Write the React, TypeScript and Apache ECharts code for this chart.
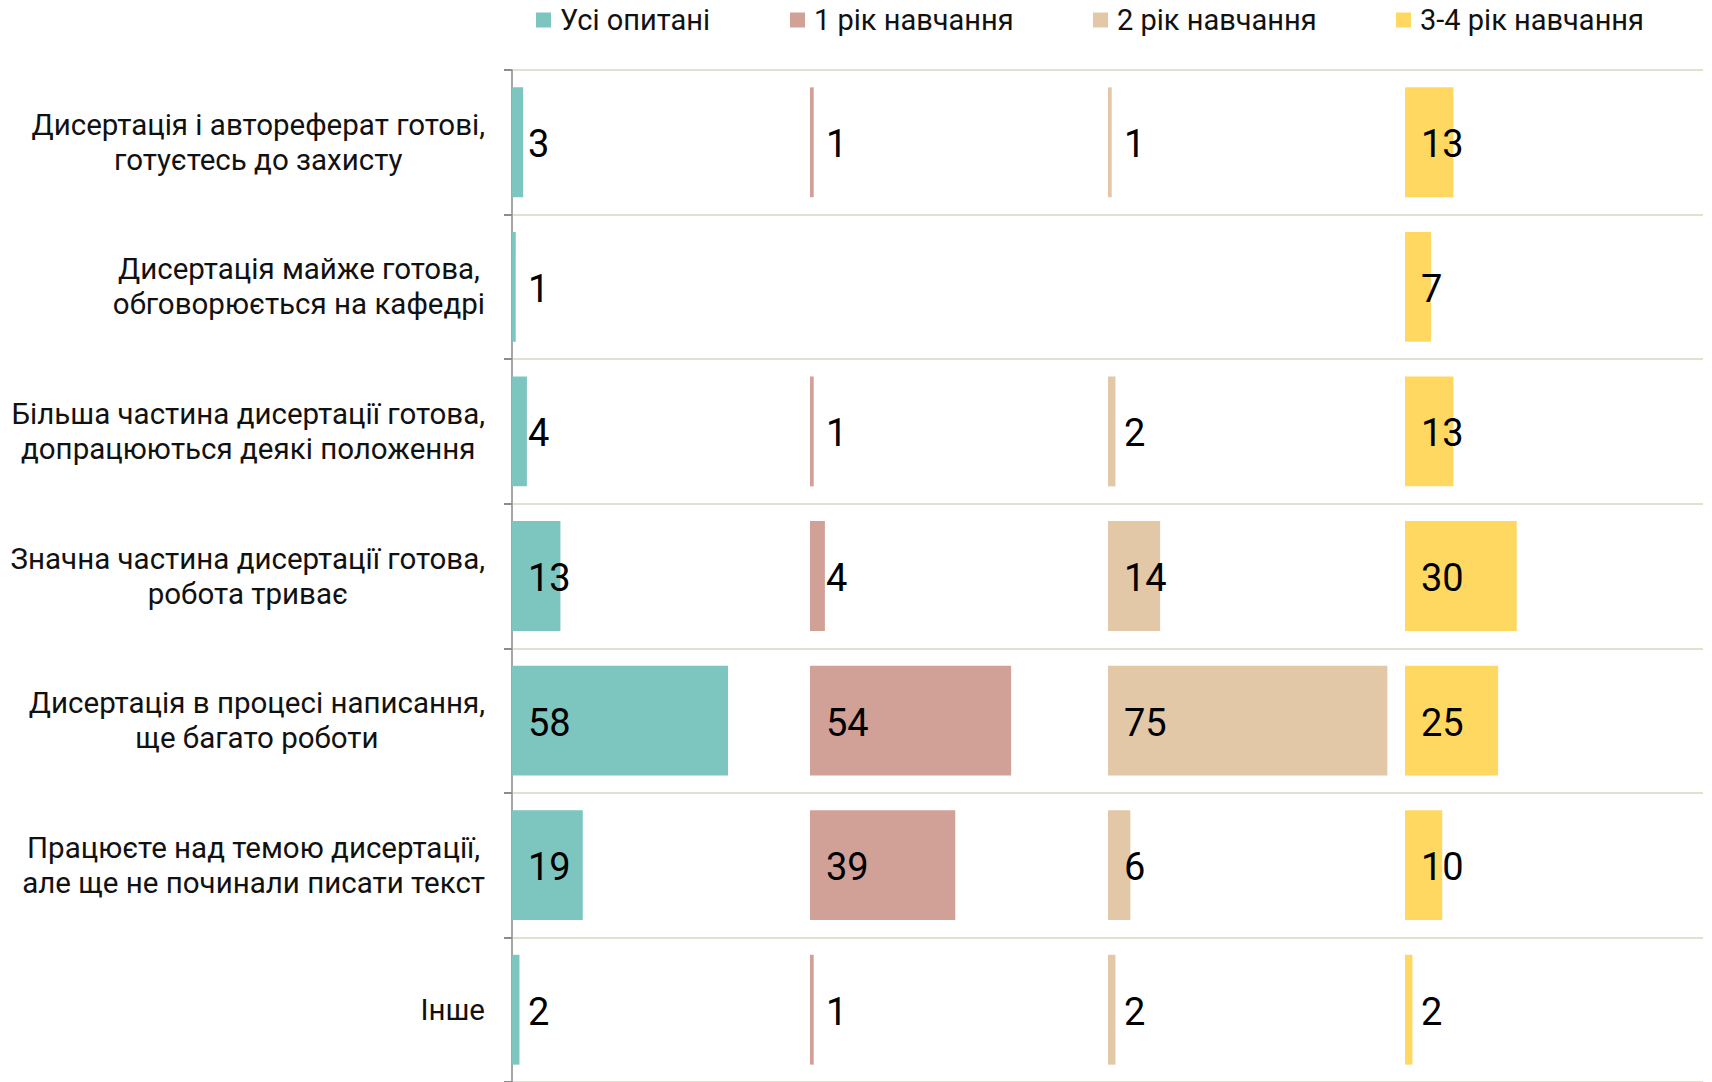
import React, { useEffect, useRef } from "react";
import * as echarts from "echarts";

const categories = [
  "Дисертація і автореферат готові,\nготуєтесь до захисту",
  "Дисертація майже готова,\nобговорюється на кафедрі",
  "Більша частина дисертації готова,\nдопрацюються деякі положення",
  "Значна частина дисертації готова,\nробота триває",
  "Дисертація в процесі написання,\nще багато роботи",
  "Працюєте над темою дисертації,\nале ще не починали писати текст",
  "Інше",
];

const seriesNames = ["Усі опитані", "1 рік навчання", "2 рік навчання", "3-4 рік навчання"];
const allRespondents = [3, 1, 4, 13, 58, 19, 2];
const year1 = [1, null, 1, 4, 54, 39, 1];
const year2 = [1, null, 2, 14, 75, 6, 2];
const year34 = [13, 7, 13, 30, 25, 10, 2];
const seriesData = [allRespondents, year1, year2, year34];
const colors = ["#7dc5bf", "#d1a198", "#e3c8a7", "#ffd862"];

const FONT = "Roboto, 'Noto Sans', sans-serif";

export default function App() {
  const ref = useRef<HTMLDivElement>(null);
  useEffect(() => {
    if (!ref.current) return;
    const chart = echarts.init(ref.current, undefined, { renderer: "svg" });
    const panelLeft = [512, 810, 1108, 1405];
    const panelWidth = 298;
    const legendLeft = [536, 790, 1093, 1396];
    const grids = panelLeft.map((l) => ({ left: l, top: 70, width: panelWidth, height: 1016 }));
    const xAxes = panelLeft.map((_, i) => ({
      type: "value",
      gridIndex: i,
      min: 0,
      max: 80,
      show: false,
      splitLine: { show: false },
    }));
    const yAxes = panelLeft.map((_, i) => ({
      type: "category",
      gridIndex: i,
      data: categories,
      inverse: true,
      axisLine: { show: i === 0, lineStyle: { color: "#a6a6a6", width: 2 } },
      axisTick: { show: i === 0, length: 8, lineStyle: { color: "#8c8c8c", width: 2 } },
      splitLine: { show: true, lineStyle: { color: "#e4e0d0", width: 2 } },
      axisLabel: {
        show: i === 0,
        margin: 27,
        align: "right",
        formatter: (v: string) => v.split("\n").map((s) => `{c|${s}}`).join("\n"),
        rich: {
          c: { align: "center", fontSize: 29.5, lineHeight: 35, fontFamily: FONT, color: "#111" },
        },
      },
    }));
    const legends = seriesNames.map((n, i) => ({
      data: [n],
      left: legendLeft[i],
      top: 5,
      padding: 0,
      icon: "rect",
      itemWidth: 15,
      itemHeight: 15,
      selectedMode: false,
      textStyle: { fontSize: 29, lineHeight: 30, color: "#111", fontFamily: FONT, padding: [0, 0, 0, 4] },
    }));
    const series = seriesNames.map((n, i) => ({
      name: n,
      type: "bar",
      xAxisIndex: i,
      yAxisIndex: i,
      data: seriesData[i],
      barCategoryGap: "24%",
      itemStyle: { color: colors[i] },
      label: {
        show: true,
        position: "insideLeft",
        distance: 16,
        offset: [0, 2],
        fontSize: 38,
        color: "#000",
        fontFamily: FONT,
      },
    }));
    chart.setOption({
      animation: false,
      backgroundColor: "#ffffff",
      legend: legends,
      grid: grids,
      xAxis: xAxes,
      yAxis: yAxes,
      series,
    });
    return () => chart.dispose();
  }, []);
  return (
    <div
      ref={ref}
      style={{ position: "absolute", left: 0, top: 0, width: 1712, height: 1082 }}
    />
  );
}
